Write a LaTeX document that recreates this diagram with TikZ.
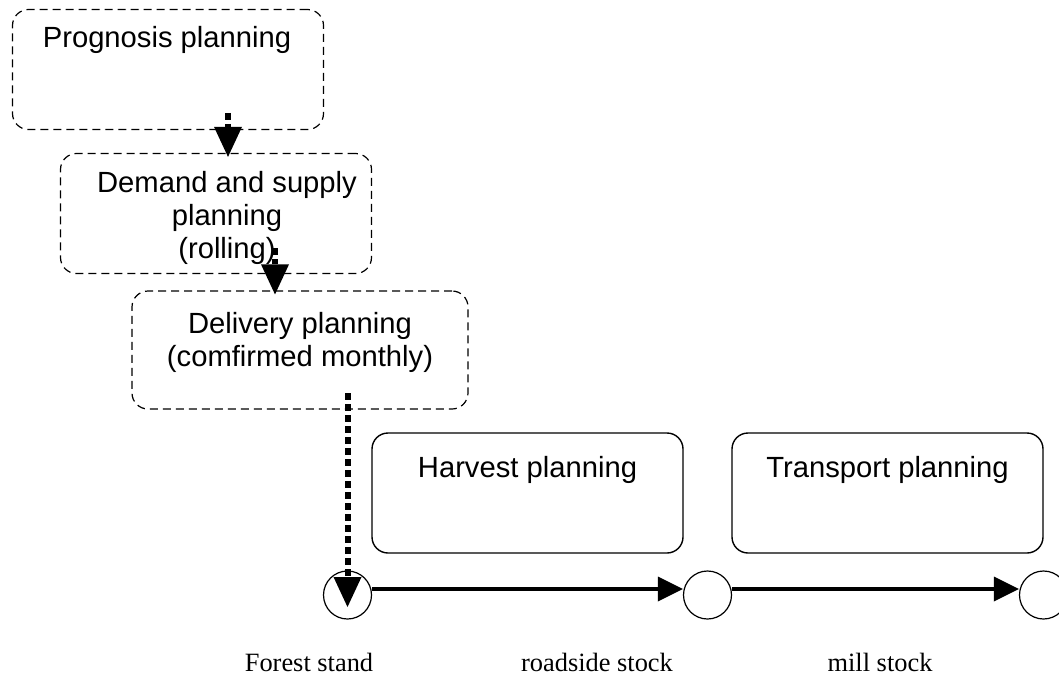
\documentclass[tikz,border=0pt]{standalone}
\usepackage{fontspec}
\setmainfont{Liberation Serif}
\setsansfont{Liberation Sans}
\usepackage{tikz}
\usetikzlibrary{
    arrows.meta,
    calc,
    positioning
}
\tikzset{
    planbox/.style={draw, rounded corners=8pt, line width=0.7pt, minimum width=155.5pt, minimum height=60pt, inner sep=0pt},
    dashbox/.style={planbox, dash pattern=on 4pt off 2.5pt, line width=0.6pt},
    boxtext/.style={font=\sffamily\fontsize{14.6}{16.5}\selectfont, align=center, anchor=base, inner sep=0pt},
    stocktext/.style={font=\fontsize{13.2}{15}\selectfont, anchor=base, inner sep=0pt},
    stock/.style={draw, circle, line width=0.6pt, minimum size=24pt, inner sep=0pt},
    dotarrow/.style={line width=3pt, dash pattern=on 3.3pt off 2.2pt, -{Triangle[length=15pt, width=14pt, line width=0pt]}},
    flowarrow/.style={line width=2pt, -{Triangle[length=12.5pt, width=12.5pt, line width=0pt]}}
}
\begin{document}
\begin{tikzpicture}[x=0.5pt, y=-0.5pt]
    \useasboundingbox (0, 0) rectangle (1059, 674);
    \node[dashbox] (prog) at (168, 69.5) {};
    \node[boxtext] (progtxt) at (167, 48) {Prognosis planning};
    \node[dashbox] (dem) at (216, 213.5) {};
    \node[boxtext] (demtxt) at (227, 258) {Demand and supply\\planning\\(rolling)};
    \node[dashbox, minimum width=168pt, minimum height=59pt] (del) at (300, 350) {};
    \node[boxtext] (deltxt) at (300, 366) {Delivery planning\\(comfirmed monthly)};
    \node[planbox] (harv) at (527.5, 493) {};
    \node[boxtext] (harvtxt) at (527.5, 477) {Harvest planning};
    \node[planbox] (trans) at (887.5, 493) {};
    \node[boxtext] (transtxt) at (887.5, 477) {Transport planning};
    \node[stock] (forest) at (347.5, 595) {};
    \node[stock] (roadside) at (707.5, 595) {};
    \node[stock] (mill) at (1043.5, 595) {};
    \node[stocktext] (foresttxt) at (309, 671) {Forest stand};
    \node[stocktext] (roadsidetxt) at (597, 671) {roadside stock};
    \node[stocktext] (milltxt) at (880, 671) {mill stock};
    \coordinate (a1) at (228, 113);
    \coordinate (a2) at (275, 248);
    \coordinate (a3) at (347.5, 393);
    \draw[dotarrow] (a1) -- ([yshift=-2pt]a1 |- dem.north);
    \draw[dotarrow] (a2) -- ([yshift=-2pt]a2 |- del.north);
    \draw[dotarrow] (a3) -- ([yshift=-6pt]forest.center);
    \draw[flowarrow] ([yshift=3pt]forest.east) -- ([yshift=3pt]roadside.west);
    \draw[flowarrow] ([yshift=3pt]roadside.east) -- ([yshift=3pt]mill.west);
\end{tikzpicture}
\end{document}
